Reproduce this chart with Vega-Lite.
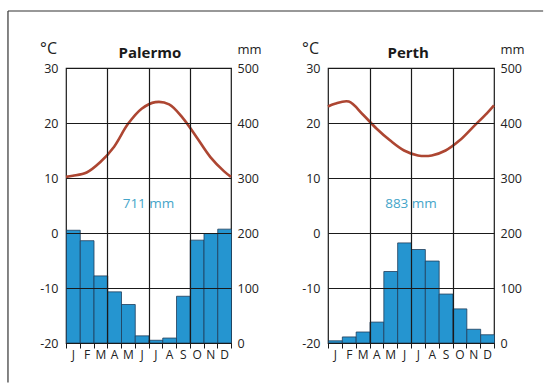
{
  "$schema": "https://vega.github.io/schema/vega-lite/v6.json",
  "padding": {"left": 6, "top": 9, "right": 0, "bottom": 0},
  "autosize": {"type": "pad"},
  "bounds": "flush",
  "spacing": 97,
  "datasets": {
    "precip": [
      {"city": "Palermo", "month": 1, "mm": 205},
      {"city": "Palermo", "month": 2, "mm": 186},
      {"city": "Palermo", "month": 3, "mm": 122},
      {"city": "Palermo", "month": 4, "mm": 93},
      {"city": "Palermo", "month": 5, "mm": 70},
      {"city": "Palermo", "month": 6, "mm": 13},
      {"city": "Palermo", "month": 7, "mm": 5},
      {"city": "Palermo", "month": 8, "mm": 9},
      {"city": "Palermo", "month": 9, "mm": 85},
      {"city": "Palermo", "month": 10, "mm": 187},
      {"city": "Palermo", "month": 11, "mm": 199},
      {"city": "Palermo", "month": 12, "mm": 207},
      {"city": "Perth", "month": 1, "mm": 4},
      {"city": "Perth", "month": 2, "mm": 11},
      {"city": "Perth", "month": 3, "mm": 20},
      {"city": "Perth", "month": 4, "mm": 38},
      {"city": "Perth", "month": 5, "mm": 130},
      {"city": "Perth", "month": 6, "mm": 182},
      {"city": "Perth", "month": 7, "mm": 170},
      {"city": "Perth", "month": 8, "mm": 149},
      {"city": "Perth", "month": 9, "mm": 89},
      {"city": "Perth", "month": 10, "mm": 62},
      {"city": "Perth", "month": 11, "mm": 25},
      {"city": "Perth", "month": 12, "mm": 15}
    ],
    "temp": [
      {"city": "Palermo", "month": 0.5, "c": 10.2},
      {"city": "Palermo", "month": 1, "c": 10.4},
      {"city": "Palermo", "month": 2, "c": 11.0},
      {"city": "Palermo", "month": 3, "c": 12.9},
      {"city": "Palermo", "month": 4, "c": 15.7},
      {"city": "Palermo", "month": 5, "c": 19.8},
      {"city": "Palermo", "month": 6, "c": 22.6},
      {"city": "Palermo", "month": 7, "c": 23.8},
      {"city": "Palermo", "month": 8, "c": 23.4},
      {"city": "Palermo", "month": 9, "c": 20.9},
      {"city": "Palermo", "month": 10, "c": 17.4},
      {"city": "Palermo", "month": 11, "c": 13.8},
      {"city": "Palermo", "month": 12, "c": 11.2},
      {"city": "Palermo", "month": 12.5, "c": 10.2},
      {"city": "Perth", "month": 0.5, "c": 23.0},
      {"city": "Perth", "month": 1, "c": 23.5},
      {"city": "Perth", "month": 2, "c": 23.9},
      {"city": "Perth", "month": 3, "c": 21.6},
      {"city": "Perth", "month": 4, "c": 19.0},
      {"city": "Perth", "month": 5, "c": 16.8},
      {"city": "Perth", "month": 6, "c": 15.0},
      {"city": "Perth", "month": 7, "c": 14.1},
      {"city": "Perth", "month": 8, "c": 14.1},
      {"city": "Perth", "month": 9, "c": 15.0},
      {"city": "Perth", "month": 10, "c": 16.8},
      {"city": "Perth", "month": 11, "c": 19.3},
      {"city": "Perth", "month": 12, "c": 21.8},
      {"city": "Perth", "month": 12.5, "c": 23.2}
    ],
    "totals": [
      {"city": "Palermo", "total": "711 mm"},
      {"city": "Perth", "total": "883 mm"}
    ]
  },
  "hconcat": [
    {
      "width": 165,
      "height": 275,
      "layer": [
        {
          "data": {"name": "precip"},
          "transform": [{"filter": "datum.city === 'Palermo'"}],
          "mark": {"type": "bar", "binSpacing": 0, "fill": "#2595d0", "stroke": "#1f3d5a", "strokeWidth": 0.8},
          "encoding": {
            "x": {
              "field": "month", "type": "quantitative",
              "bin": {"step": 1, "extent": [0.5, 12.5], "nice": false},
              "scale": {"domain": [0.5, 12.5], "nice": false, "zero": false},
              "axis": {
                "orient": "bottom", "title": null, "values": [0.5, 1.5, 2.5, 3.5, 4.5, 5.5, 6.5, 7.5, 8.5, 9.5, 10.5, 11.5, 12.5],
                "labelExpr": "datum.value > 12 ? '' : substring('JFMAMJJASOND', datum.value - 0.5, datum.value + 0.5)",
                "labelOffset": 6.875, "labelFlush": false, "labelOverlap": false, "labelFontSize": 12, "labelPadding": 1,
                "tickSize": 5, "tickColor": "#1a1a1a", "tickWidth": 1, "domain": false, "grid": false
              }
            },
            "y": {
              "field": "mm", "type": "quantitative",
              "scale": {"domain": [0, 500], "nice": false},
              "axis": {
                "orient": "right", "values": [0, 100, 200, 300, 400, 500], "grid": false, "ticks": false, "domain": false,
                "labelPadding": 6, "labelFontSize": 12.5,
                "title": "mm", "titleAngle": 0, "titleX": 18, "titleY": -15, "titleAlign": "center", "titleBaseline": "alphabetic", "titleFontSize": 13
              }
            }
          }
        },
        {
          "layer": [
            {
              "data": {"name": "temp"},
              "transform": [{"filter": "datum.city === 'Palermo'"}],
              "mark": {"type": "line", "interpolate": "catmull-rom", "color": "#ad4632", "strokeWidth": 2.6},
              "encoding": {
                "x": {
                  "field": "month", "type": "quantitative",
                  "scale": {"domain": [0.5, 12.5], "nice": false, "zero": false},
                  "axis": {"orient": "bottom", "values": [3.5, 6.5, 9.5], "grid": true, "gridColor": "#1a1a1a", "gridWidth": 1.2, "gridOpacity": 1, "labels": false, "ticks": false, "domain": false, "title": null, "zindex": 1}
                },
                "y": {
                  "field": "c", "type": "quantitative",
                  "scale": {"domain": [-20, 30], "nice": false, "zero": false},
                  "axis": {
                    "orient": "left", "values": [-20, -10, 0, 10, 20, 30], "grid": true, "gridColor": "#1a1a1a", "gridWidth": 1.2, "gridOpacity": 1, "zindex": 1,
                    "ticks": false, "domain": false, "labelPadding": 8, "labelFontSize": 12.5, "labelExpr": "'' + datum.value",
                    "title": "°C", "titleAngle": 0, "titleX": -18, "titleY": -15, "titleAlign": "center", "titleBaseline": "alphabetic", "titleFontSize": 16
                  }
                }
              }
            },
            {
              "data": {"name": "totals"},
              "transform": [{"filter": "datum.city === 'Palermo'"}],
              "mark": {"type": "text", "fontSize": 13.5, "color": "#45a5c9", "baseline": "middle", "align": "center"},
              "encoding": {
                "x": {"datum": 6.5},
                "y": {"datum": 5.3},
                "text": {"field": "total"}
              }
            },
            {
              "data": {"name": "totals"},
              "transform": [{"filter": "datum.city === 'Palermo'"}],
              "mark": {"type": "text", "fontSize": 15, "fontWeight": "bold", "color": "#1a1a1a", "baseline": "alphabetic", "align": "center"},
              "encoding": {
                "x": {"datum": 6.6},
                "y": {"datum": 31.8},
                "text": {"field": "city"}
              }
            },
            {
              "data": {"values": [{}]},
              "mark": {"type": "rule", "color": "#333333", "strokeWidth": 1.2},
              "encoding": {
                "x": {"datum": -3.72},
                "x2": {"datum": 35.2},
                "y": {"datum": 40.36}
              }
            },
            {
              "data": {"values": [{}]},
              "mark": {"type": "rule", "color": "#333333", "strokeWidth": 1.2},
              "encoding": {
                "x": {"datum": -3.72},
                "y": {"datum": 40.36},
                "y2": {"datum": -27.2}
              }
            }
          ]
        }
      ],
      "resolve": {"scale": {"y": "independent"}, "axis": {"x": "independent"}}
    },
    {
      "width": 166,
      "height": 275,
      "layer": [
        {
          "data": {"name": "precip"},
          "transform": [{"filter": "datum.city === 'Perth'"}],
          "mark": {"type": "bar", "binSpacing": 0, "fill": "#2595d0", "stroke": "#1f3d5a", "strokeWidth": 0.8},
          "encoding": {
            "x": {
              "field": "month", "type": "quantitative",
              "bin": {"step": 1, "extent": [0.5, 12.5], "nice": false},
              "scale": {"domain": [0.5, 12.5], "nice": false, "zero": false},
              "axis": {
                "orient": "bottom", "title": null, "values": [0.5, 1.5, 2.5, 3.5, 4.5, 5.5, 6.5, 7.5, 8.5, 9.5, 10.5, 11.5, 12.5],
                "labelExpr": "datum.value > 12 ? '' : substring('JFMAMJJASOND', datum.value - 0.5, datum.value + 0.5)",
                "labelOffset": 6.9, "labelFlush": false, "labelOverlap": false, "labelFontSize": 12, "labelPadding": 1,
                "tickSize": 5, "tickColor": "#1a1a1a", "tickWidth": 1, "domain": false, "grid": false
              }
            },
            "y": {
              "field": "mm", "type": "quantitative",
              "scale": {"domain": [0, 500], "nice": false},
              "axis": {
                "orient": "right", "values": [0, 100, 200, 300, 400, 500], "grid": false, "ticks": false, "domain": false,
                "labelPadding": 6, "labelFontSize": 12.5,
                "title": "mm", "titleAngle": 0, "titleX": 18, "titleY": -15, "titleAlign": "center", "titleBaseline": "alphabetic", "titleFontSize": 13
              }
            }
          }
        },
        {
          "layer": [
            {
              "data": {"name": "temp"},
              "transform": [{"filter": "datum.city === 'Perth'"}],
              "mark": {"type": "line", "interpolate": "catmull-rom", "color": "#ad4632", "strokeWidth": 2.6},
              "encoding": {
                "x": {
                  "field": "month", "type": "quantitative",
                  "scale": {"domain": [0.5, 12.5], "nice": false, "zero": false},
                  "axis": {"orient": "bottom", "values": [3.5, 6.5, 9.5], "grid": true, "gridColor": "#1a1a1a", "gridWidth": 1.2, "gridOpacity": 1, "labels": false, "ticks": false, "domain": false, "title": null, "zindex": 1}
                },
                "y": {
                  "field": "c", "type": "quantitative",
                  "scale": {"domain": [-20, 30], "nice": false, "zero": false},
                  "axis": {
                    "orient": "left", "values": [-20, -10, 0, 10, 20, 30], "grid": true, "gridColor": "#1a1a1a", "gridWidth": 1.2, "gridOpacity": 1, "zindex": 1,
                    "ticks": false, "domain": false, "labelPadding": 8, "labelFontSize": 12.5, "labelExpr": "'' + datum.value",
                    "title": "°C", "titleAngle": 0, "titleX": -18, "titleY": -15, "titleAlign": "center", "titleBaseline": "alphabetic", "titleFontSize": 16
                  }
                }
              }
            },
            {
              "data": {"name": "totals"},
              "transform": [{"filter": "datum.city === 'Perth'"}],
              "mark": {"type": "text", "fontSize": 13.5, "color": "#45a5c9", "baseline": "middle", "align": "center"},
              "encoding": {
                "x": {"datum": 6.5},
                "y": {"datum": 5.3},
                "text": {"field": "total"}
              }
            },
            {
              "data": {"name": "totals"},
              "transform": [{"filter": "datum.city === 'Perth'"}],
              "mark": {"type": "text", "fontSize": 15, "fontWeight": "bold", "color": "#1a1a1a", "baseline": "alphabetic", "align": "center"},
              "encoding": {
                "x": {"datum": 6.3},
                "y": {"datum": 31.8},
                "text": {"field": "city"}
              }
            }
          ]
        }
      ],
      "resolve": {"scale": {"y": "independent"}, "axis": {"x": "independent"}}
    }
  ],
  "config": {
    "font": "Open Sans",
    "view": {"stroke": "#1a1a1a", "strokeWidth": 1.2},
    "axis": {"labelFont": "Open Sans", "labelColor": "#222222", "titleFont": "Open Sans", "titleColor": "#222222", "titleFontWeight": "normal"},
    "text": {"font": "Open Sans"}
  }
}
